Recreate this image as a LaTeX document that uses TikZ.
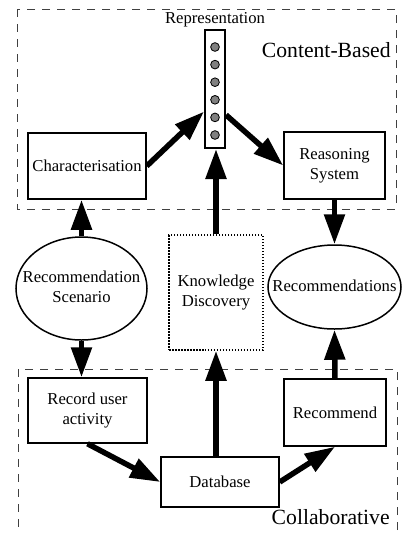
\documentclass[tikz,border=0pt]{standalone}
\usepackage{fontspec}
\setmainfont{Liberation Serif}
\usetikzlibrary{
    arrows.meta,
    shapes.geometric,
    positioning
}
\newcommand{\ovaltext}[1]{\makebox[0pt]{\begin{tabular}{@{}c@{}}#1\end{tabular}}}
\tikzset {
    box/.style = {draw, line width = 0.9pt, inner sep = 2pt, align = center},
    knowledge box/.style = {box, dash pattern = on 0.9pt off 0.9pt},
    oval/.style = {ellipse, draw, line width = 0.9pt, inner sep = 0pt},
    column/.style = {draw, line width = 1.2pt, inner sep = 0pt,
        minimum width = 12pt, minimum height = 70.8pt},
    cell/.style = {circle, draw, fill = gray, line width = 0.5pt,
        inner sep = 0pt, minimum size = 5.2pt},
    region/.style = {draw, line width = 0.5pt, dash pattern = on 5pt off 4pt,
        black!75},
    region label/.style = {inner sep = 0pt, font = \rmfamily\fontsize{13}{15}\selectfont},
    flow/.style = {line width = 3.3pt, -{Triangle[length = 18pt, width = 12pt]}}
}

\begin{document}
\begin{tikzpicture}[x = 0.6pt, y = -0.6pt, font = \rmfamily\fontsize{10}{12}\selectfont]
    \clip (0, 0) rectangle (402, 534);
    \draw [region] (17, 9) rectangle (396, 209);
    \draw [region] (18, 369) rectangle (397, 560);
    \node [region label, anchor = east] (content) at (391, 50) {Content-Based};
    \node [region label, anchor = east] (collab) at (390, 517) {Collaborative};
    %
    \node [column] (rep) at (215, 89) {};
    \foreach \i in {0, ..., 5}
        \node [cell] (cell\i) at (215, 47 + 17.6*\i) {};
    \node [above = 0pt of rep, inner sep = 1pt] (replabel) {Representation};
    %
    \node [box, minimum width = 70.8pt, minimum height = 39.6pt] (char)
        at (87, 166) {Characterisation};
    \node [box, minimum width = 60.6pt, minimum height = 40.2pt] (reason)
        at (334.5, 165.5) {Reasoning\\System};
    \node [oval, minimum width = 78.6pt, minimum height = 61.8pt] (scenario)
        at (81.5, 288.5) {\ovaltext{Recommendation\\Scenario}};
    \node [knowledge box, minimum width = 56.4pt, minimum height = 69pt] (kd)
        at (216, 292.5) {Knowledge\\Discovery};
    \node [oval, minimum width = 79.8pt, minimum height = 50.4pt] (recs)
        at (334.5, 287) {\ovaltext{Recommendations}};
    \node [box, minimum width = 71.4pt, minimum height = 39pt] (record)
        at (87.5, 410.5) {Record user\\activity};
    \node [box, minimum width = 61.2pt, minimum height = 40.2pt] (recommend)
        at (335, 412.5) {Recommend};
    \node [box, minimum width = 70.8pt, minimum height = 30pt] (db)
        at (220, 482) {Database};
    %
    \draw [flow] (char.east) -- (rep.244);
    \draw [flow] (rep.293) -- (reason.west);
    \draw [flow] (kd.north) -- (kd.north |- rep.south);
    \draw [flow] (reason.south) -- (recs.north);
    \draw [flow] (scenario.north) -- (scenario.north |- char.south);
    \draw [flow] (scenario.south) -- (scenario.south |- record.north);
    \draw [flow] (record.south) -- (db.west);
    \draw [flow] (db.north -| kd.south) -- (kd.south);
    \draw [flow] (db.east) -- (recommend.south);
    \draw [flow] (recommend.north) -- (recs.south);
\end{tikzpicture}
\end{document}
